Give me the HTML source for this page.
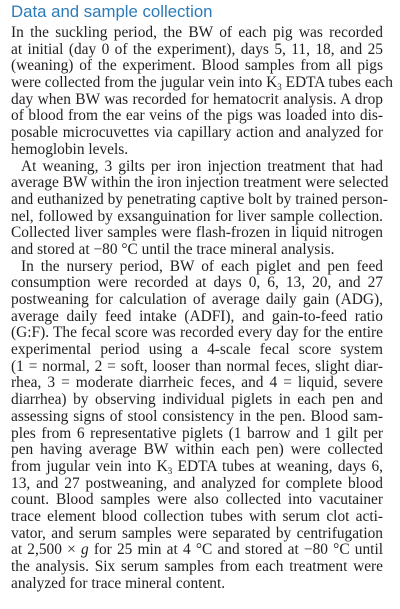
<!DOCTYPE html>
<html><head><meta charset="utf-8">
<style>
html,body{margin:0;padding:0;background:#fff;width:400px;height:609px;overflow:hidden}
#page{position:relative;width:400px;height:609px}
h2{position:absolute;left:11px;top:0px;margin:0;font:400 16.8px "Liberation Sans",sans-serif;color:#2b7bb9;line-height:24px}
#body{position:absolute;left:11px;top:25px;width:372px;font:15.4px "Liberation Serif",serif;color:#231f20}
.l{display:block;height:16.7px;line-height:16.7px;text-align:justify;text-align-last:justify;white-space:nowrap;overflow:visible}
.e{text-align-last:left}
.i{text-indent:10px}
sub{font-size:9px;line-height:0;vertical-align:-3px}
</style></head><body>
<div id="page">
<h2>Data and sample collection</h2>
<div id="body">
<div>
<div class="l">In the suckling period, the BW of each pig was recorded</div>
<div class="l">at initial (day 0 of the experiment), days 5, 11, 18, and 25</div>
<div class="l">(weaning) of the experiment. Blood samples from all pigs</div>
<div class="l">were collected from the jugular vein into K<sub>3</sub> EDTA tubes each</div>
<div class="l">day when BW was recorded for hematocrit analysis. A drop</div>
<div class="l">of blood from the ear veins of the pigs was loaded into dis-</div>
<div class="l">posable microcuvettes via capillary action and analyzed for</div>
<div class="l e">hemoglobin levels.</div>
</div>
<div>
<div class="l i">At weaning, 3 gilts per iron injection treatment that had</div>
<div class="l">average BW within the iron injection treatment were selected</div>
<div class="l">and euthanized by penetrating captive bolt by trained person-</div>
<div class="l">nel, followed by exsanguination for liver sample collection.</div>
<div class="l">Collected liver samples were flash-frozen in liquid nitrogen</div>
<div class="l e">and stored at −80 °C until the trace mineral analysis.</div>
</div>
<div>
<div class="l i">In the nursery period, BW of each piglet and pen feed</div>
<div class="l">consumption were recorded at days 0, 6, 13, 20, and 27</div>
<div class="l">postweaning for calculation of average daily gain (ADG),</div>
<div class="l">average daily feed intake (ADFI), and gain-to-feed ratio</div>
<div class="l">(G:F). The fecal score was recorded every day for the entire</div>
<div class="l">experimental period using a 4-scale fecal score system</div>
<div class="l">(1 = normal, 2 = soft, looser than normal feces, slight diar-</div>
<div class="l">rhea, 3 = moderate diarrheic feces, and 4 = liquid, severe</div>
<div class="l">diarrhea) by observing individual piglets in each pen and</div>
<div class="l">assessing signs of stool consistency in the pen. Blood sam-</div>
<div class="l">ples from 6 representative piglets (1 barrow and 1 gilt per</div>
<div class="l">pen having average BW within each pen) were collected</div>
<div class="l">from jugular vein into K<sub>3</sub> EDTA tubes at weaning, days 6,</div>
<div class="l">13, and 27 postweaning, and analyzed for complete blood</div>
<div class="l">count. Blood samples were also collected into vacutainer</div>
<div class="l">trace element blood collection tubes with serum clot acti-</div>
<div class="l">vator, and serum samples were separated by centrifugation</div>
<div class="l">at 2,500 × <i>g</i> for 25 min at 4 °C and stored at −80 °C until</div>
<div class="l">the analysis. Six serum samples from each treatment were</div>
<div class="l e">analyzed for trace mineral content.</div>
</div>
</div>
</div>
</body></html>
